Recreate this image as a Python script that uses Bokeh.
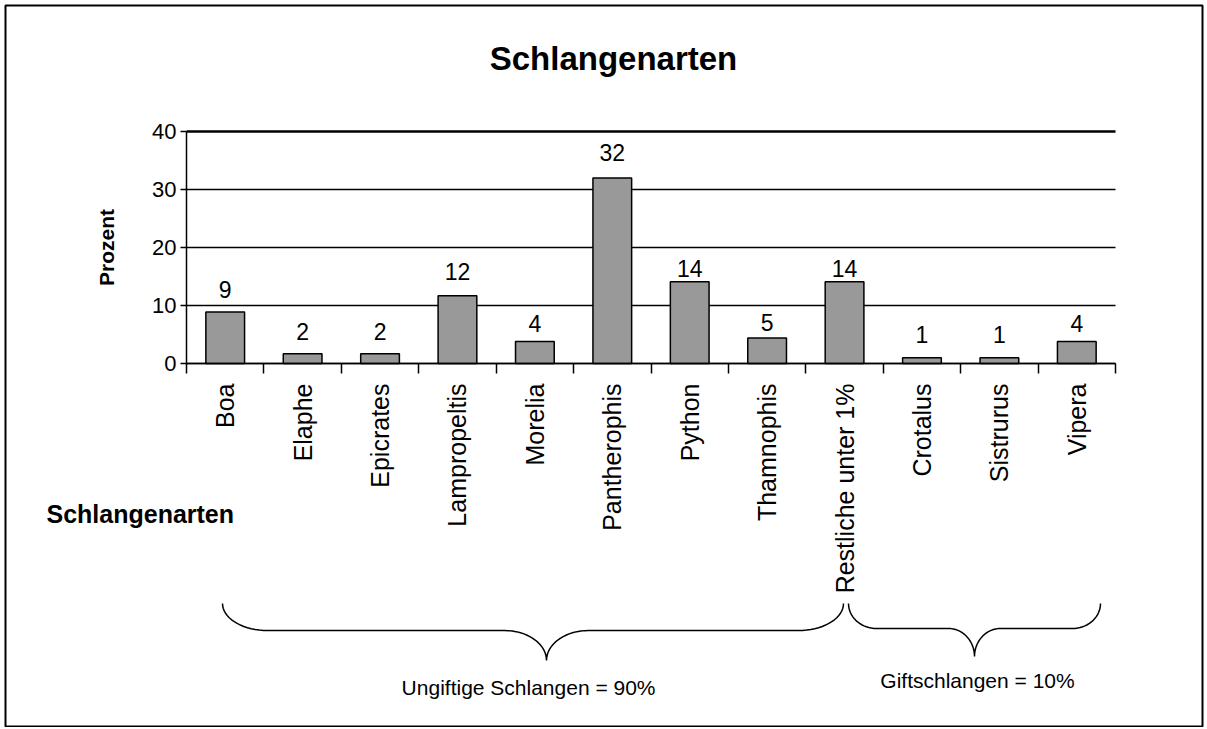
import numpy as np
from bokeh.plotting import figure
from bokeh.models import (ColumnDataSource, Range1d, FixedTicker, Label,
                          LabelSet)
from bokeh.core.properties import value
from bokeh.embed import file_html
from bokeh.resources import INLINE

# ---------------- data ----------------
categories = ["Boa", "Elaphe", "Epicrates", "Lampropeltis", "Morelia",
              "Pantherophis", "Python", "Thamnophis", "Restliche unter 1%",
              "Crotalus", "Sistrurus", "Vipera"]
values = [8.9, 1.7, 1.7, 11.7, 3.8, 32.0, 14.1, 4.4, 14.1, 1.0, 1.0, 3.8]
value_labels = ["9", "2", "2", "12", "4", "32", "14", "5", "14", "1", "1", "4"]
y_ticks = [0, 10, 20, 30, 40]
group_names = ["Ungiftige Schlangen  = 90%", "Giftschlangen = 10%"]
chart_title = "Schlangenarten"
x_title = "Schlangenarten"
y_title = "Prozent"

# ---------------- styles (not data) ----------------
FONT = "Liberation Sans"
label_gap_px = [22, 22, 22, 24, 18, 25, 13, 15, 13, 23, 23, 18]
grid_widths = [1.5, 1.5, 1.5, 1.5, 2.5]

# ---------------- layout (page pixels) ----------------
W, H = 1204, 727                         # canvas = whole chart
FL, FR, FT, FB = 186, 1115, 131, 363     # plot area edges on the page

n = len(categories)
pos = [i + 0.5 for i in range(n)]


def px2x(X):
    return (X - FL) / (FR - FL) * n


def px2y(Y):
    return (FB - Y) / (FB - FT) * 40.0


p = figure(width=W, height=H,
           x_range=Range1d(px2x(0), px2x(W)),
           y_range=Range1d(px2y(H), px2y(0)),
           output_backend="svg", toolbar_location=None,
           min_border=0, min_border_left=0, min_border_right=0,
           min_border_top=0, min_border_bottom=0)
p.outline_line_color = None
p.background_fill_color = "white"
p.border_fill_color = "white"
p.xgrid.visible = False
p.ygrid.visible = False

# outer chart border
p.quad(left=[px2x(5)], right=[px2x(1202)], top=[px2y(5)],
       bottom=[px2y(726)], fill_color=None, line_color="black",
       line_width=2)

# horizontal gridlines
p.segment(x0=[0] * len(y_ticks), x1=[n] * len(y_ticks), y0=y_ticks,
          y1=y_ticks, line_color="black", line_width=grid_widths)

# x axis: labels at category centres, tick marks between categories
xa = p.xaxis[0]
xa.fixed_location = 0
xa.bounds = (0, n)
xa.ticker = FixedTicker(ticks=pos, minor_ticks=list(range(n + 1)))
xa.major_label_overrides = {pv: c for pv, c in zip(pos, categories)}
xa.major_label_orientation = np.pi / 2
xa.major_tick_line_color = None
xa.major_tick_out = 0
xa.major_tick_in = 0
xa.minor_tick_out = 10
xa.minor_tick_in = 0
xa.minor_tick_line_color = "black"
xa.minor_tick_line_width = 1.5
xa.axis_line_color = "black"
xa.axis_line_width = 1.5
xa.major_label_standoff = 10
xa.major_label_text_font = FONT
xa.major_label_text_font_size = "25px"
xa.major_label_text_color = "black"

# y axis
ya = p.yaxis[0]
ya.fixed_location = 0
ya.bounds = (0, 40)
ya.ticker = FixedTicker(ticks=y_ticks)
ya.minor_tick_line_color = None
ya.major_tick_out = 6
ya.major_tick_in = 0
ya.major_tick_line_color = "black"
ya.major_tick_line_width = 1.5
ya.axis_line_color = "black"
ya.axis_line_width = 1.5
ya.major_label_text_font = FONT
ya.major_label_text_font_size = "22px"
ya.major_label_text_color = "black"
ya.major_label_standoff = 4
ya.axis_label = y_title
ya.axis_label_text_font = FONT
ya.axis_label_text_font_style = "bold"
ya.axis_label_text_font_size = "21px"
ya.axis_label_text_color = "black"
ya.axis_label_standoff = 31

# bars
src = ColumnDataSource(dict(x=pos, top=values, label=value_labels,
                            gap=label_gap_px))
p.vbar(x="x", top="top", width=0.5, source=src, fill_color="#999999",
       line_color="black", line_width=1.5)
p.add_layout(LabelSet(x="x", y="top", text="label", source=src,
                      text_align="center", text_baseline="middle",
                      y_offset="gap",
                      text_font=value(FONT), text_font_size=value("23px"),
                      text_color="black"))

# title and category axis title
p.add_layout(Label(x=px2x(613), y=px2y(58), text=chart_title,
                   text_align="center", text_baseline="middle",
                   text_font=FONT, text_font_style="bold",
                   text_font_size="33px", text_color="black"))
p.add_layout(Label(x=px2x(46), y=px2y(513), text=x_title,
                   text_align="left", text_baseline="middle",
                   text_font=FONT, text_font_style="bold",
                   text_font_size="25px", text_color="black"))


# braces
def brace(x0, x1, xt, y_end, y_mid, y_tip, r_end, r_tip, steps=18):
    t = np.linspace(0, np.pi / 2, steps)
    xs = list(x0 + r_end * (1 - np.cos(t)))
    ys = list(y_end + (y_mid - y_end) * np.sin(t))
    xs += list(xt - r_tip + r_tip * np.sin(t))
    ys += list(y_mid + (y_tip - y_mid) * (1 - np.cos(t)))
    xs += list(xt + r_tip * (1 - np.cos(t)))
    ys += list(y_tip + (y_mid - y_tip) * np.sin(t))
    xs += list(x1 - r_end + r_end * np.sin(t))
    ys += list(y_mid + (y_end - y_mid) * (1 - np.cos(t)))
    return xs, ys


brace_px = [dict(x0=222, x1=843, xt=546, y_end=603, y_mid=630, y_tip=660,
                 r_end=45, r_tip=42, tx=531, ty=687),
            dict(x0=848, x1=1100, xt=974, y_end=603, y_mid=628, y_tip=656,
                 r_end=28, r_tip=26, tx=977, ty=680)]

for g, b in zip(group_names, brace_px):
    bx, by = brace(b["x0"], b["x1"], b["xt"], b["y_end"], b["y_mid"],
                   b["y_tip"], b["r_end"], b["r_tip"])
    p.line(x=[px2x(v) for v in bx], y=[px2y(v) for v in by],
           line_color="black", line_width=1.5)
    p.add_layout(Label(x=px2x(b["tx"]), y=px2y(b["ty"]), text=g,
                       text_align="center", text_baseline="middle",
                       text_font=FONT, text_font_size="21px",
                       text_color="black"))

open("out.html", "w").write(file_html(p, INLINE))
